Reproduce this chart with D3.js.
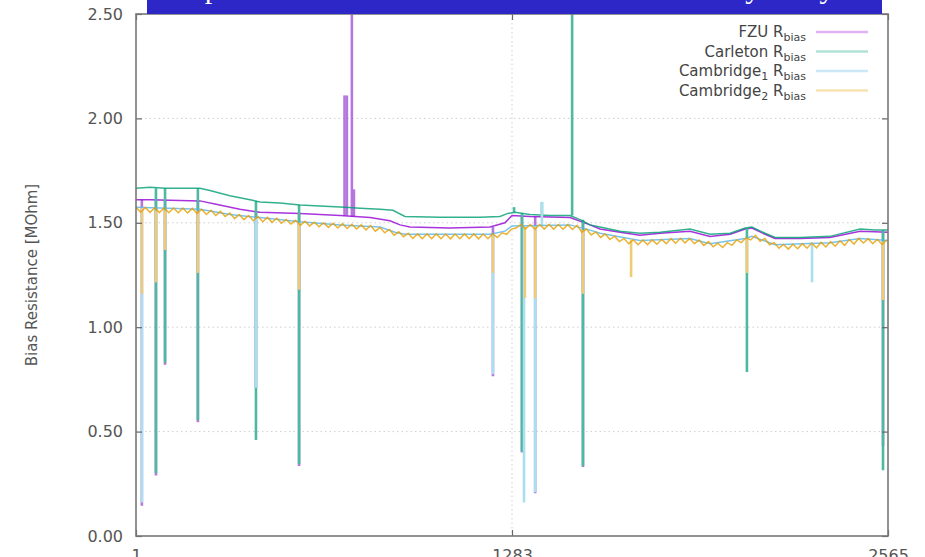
<!DOCTYPE html>
<html>
<head>
<meta charset="utf-8">
<script src="https://cdn.jsdelivr.net/npm/d3@7"></script>
<style>
body { margin: 0; background: #fff; overflow: hidden; }
svg { display: block; font-family: 'DejaVu Sans', sans-serif; }
text { white-space: pre; }
</style>
</head>
<body>
<svg></svg>
<script>
// Define variables
const width = 925
const height = 557
const plotLeft = 136, plotRight = 888, plotTop = 14, plotBottom = 536

const xTicks = [1, 1283, 2565]
const yTicks = [0, 0.5, 1.0, 1.5, 2.0, 2.5]

const colors = ['#9400d3', '#009e73', '#56b4e9', '#e69f00']
// outliers look paler in the picture
const spikeColors = ['#b577dc', '#4cb9a0', '#aadfee', '#efcb78']

// baseline readings [sensor index, MOhm]
const fzu = [[1,1.61],[49,1.61],[219,1.605],[270,1.59],[355,1.565],[424,1.55],[560,1.545],[697,1.535],
  [799,1.525],[867,1.51],[901,1.49],[935,1.48],[1071,1.475],[1208,1.48],[1259,1.50],[1283,1.535],
  [1344,1.53],[1481,1.525],[1549,1.49],[1583,1.47],[1651,1.455],[1719,1.44],[1788,1.45],[1890,1.46],
  [1958,1.435],[2027,1.445],[2078,1.47],[2101,1.475],[2146,1.445],[2180,1.425],[2265,1.425],
  [2367,1.43],[2470,1.46],[2565,1.455]]

const carleton = [[1,1.665],[49,1.67],[100,1.665],[219,1.665],[253,1.655],[321,1.63],[390,1.61],
  [424,1.60],[492,1.595],[560,1.585],[628,1.58],[714,1.575],[765,1.57],[833,1.565],[877,1.56],
  [918,1.53],[1037,1.527],[1174,1.527],[1242,1.53],[1269,1.545],[1293,1.55],[1344,1.54],[1413,1.535],
  [1481,1.535],[1515,1.515],[1549,1.49],[1583,1.48],[1651,1.46],[1719,1.45],[1788,1.455],[1890,1.47],
  [1958,1.445],[2027,1.45],[2078,1.475],[2101,1.48],[2146,1.45],[2180,1.43],[2265,1.43],[2367,1.435],
  [2470,1.47],[2521,1.465],[2565,1.465]]

const cambridge1 = [[1,1.575],[219,1.565],[321,1.54],[424,1.525],[560,1.505],[697,1.49],[833,1.48],
  [884,1.455],[918,1.445],[1208,1.445],[1259,1.46],[1283,1.485],[1481,1.49],[1549,1.465],[1583,1.45],
  [1719,1.415],[1890,1.425],[1958,1.40],[2078,1.425],[2101,1.435],[2180,1.395],[2367,1.405],
  [2470,1.425],[2565,1.415]]

// Cambridge2 read every 16 sensors (saw-tooth)
const cam2Step = 16
const cambridge2 = [
  1.574,1.551,1.573,1.550,1.572,1.549,1.572,1.548,1.571,1.548,
  1.570,1.547,1.569,1.545,1.565,1.540,1.560,1.535,1.555,1.530,
  1.547,1.520,1.540,1.515,1.535,1.510,1.530,1.505,1.526,1.502,
  1.522,1.498,1.516,1.494,1.512,1.488,1.507,1.485,1.503,1.481,
  1.500,1.478,1.498,1.475,1.496,1.473,1.493,1.470,1.490,1.466,
  1.487,1.460,1.477,1.452,1.468,1.440,1.457,1.433,1.450,1.425,
  1.447,1.424,1.447,1.424,1.447,1.424,1.446,1.423,1.446,1.424,
  1.447,1.424,1.447,1.423,1.446,1.424,1.447,1.430,1.452,1.445,
  1.470,1.475,1.492,1.470,1.492,1.469,1.492,1.470,1.493,1.470,
  1.492,1.469,1.491,1.468,1.488,1.455,1.470,1.442,1.456,1.430,
  1.446,1.420,1.436,1.410,1.425,1.400,1.418,1.395,1.417,1.395,
  1.418,1.397,1.420,1.400,1.424,1.402,1.426,1.404,1.425,1.400,
  1.418,1.392,1.410,1.385,1.402,1.382,1.405,1.392,1.418,1.405,
  1.428,1.418,1.440,1.412,1.425,1.395,1.405,1.378,1.396,1.374,
  1.397,1.376,1.400,1.378,1.403,1.380,1.406,1.384,1.410,1.388,
  1.414,1.392,1.420,1.398,1.425,1.403,1.424,1.400,1.420,1.396,
  1.418]

// single-sensor outliers [index, baseline, outlier]
const fzuSpikes = [[21,1.61,0.145],[69,1.61,0.29],[100,1.61,0.82],[212,1.605,0.545],[410,1.555,0.71],
  [557,1.545,0.335],[712,1.535,2.11],[720,1.535,2.11],[737,1.53,2.70],[744,1.53,1.66],[1218,1.48,0.765],
  [1317,1.535,0.40],[1362,1.53,0.205],[1525,1.51,0.33],[2548,1.455,0.43]]
const carletonSpikes = [[69,1.665,0.30],[100,1.665,0.83],[212,1.665,0.555],[410,1.605,0.46],
  [557,1.585,0.345],[1290,1.55,1.575],[1317,1.545,0.405],[1385,1.54,1.60],[1488,1.535,2.80],
  [1525,1.515,0.335],[2084,1.475,0.785],[2548,1.465,0.315]]
const cambridge1Spikes = [[21,1.575,0.16],[410,1.525,0.71],[1218,1.445,0.775],
  [1324,1.485,0.16],[1362,1.485,0.21],[1385,1.485,1.60],[2306,1.40,1.215]]
const cambridge2Spikes = [[21,1.57,1.16],[69,1.56,1.215],[100,1.56,1.37],[212,1.555,1.26],
  [557,1.50,1.18],[1218,1.435,1.26],[1327,1.48,1.14],[1362,1.48,1.14],[1525,1.465,1.16],
  [1689,1.42,1.24],[2084,1.425,1.26],[2548,1.41,1.13]]

const legendLabels = [
  [['FZU R', 0], ['bias', 1]],
  [['Carleton R', 0], ['bias', 1]],
  [['Cambridge', 0], ['1', 1], [' R', 0], ['bias', 1]],
  [['Cambridge', 0], ['2', 1], [' R', 0], ['bias', 1]]
]

const svg = d3.select('svg')
                .attr('width', width)
                .attr('height', height)

let xScale, yScale

let buildScales = () => {
    xScale = d3.scaleLinear().domain([1, 2565]).range([plotLeft, plotRight])
    yScale = d3.scaleLinear().domain([0, 2.5]).range([plotBottom, plotTop])
}

let buildGrid = () => {
    let grid = svg.append('g')
                  .attr('stroke', '#cfcfcf')
                  .attr('stroke-dasharray', '1.5,3')
    grid.selectAll('.gy')
        .data(yTicks.slice(1, -1))
        .enter()
        .append('line')
        .attr('x1', plotLeft).attr('x2', plotRight)
        .attr('y1', d => yScale(d)).attr('y2', d => yScale(d))
    grid.append('line')
        .attr('x1', xScale(1283)).attr('x2', xScale(1283))
        .attr('y1', plotTop).attr('y2', plotBottom)
}

let buildAxes = () => {
    let yAxis = d3.axisLeft(yScale)
                  .tickValues(yTicks)
                  .tickFormat(d3.format('.2f'))
                  .tickSize(-6)
                  .tickPadding(13)
    let yg = svg.append('g')
        .attr('transform', 'translate(' + plotLeft + ', 0)')
        .call(yAxis)

    let yRight = d3.axisRight(yScale).tickValues(yTicks).tickSize(-6).tickFormat('')
    let yr = svg.append('g')
        .attr('transform', 'translate(' + plotRight + ', 0)')
        .call(yRight)

    let xAxis = d3.axisBottom(xScale)
                  .tickValues(xTicks)
                  .tickFormat(d3.format('d'))
                  .tickSize(-6)
                  .tickPadding(14)
    let xg = svg.append('g')
        .attr('transform', 'translate(0, ' + plotBottom + ')')
        .call(xAxis)

    let xTop = d3.axisTop(xScale).tickValues(xTicks).tickSize(-6).tickFormat('')
    let xt = svg.append('g')
        .attr('transform', 'translate(0, ' + plotTop + ')')
        .call(xTop)

    ;[yg, yr, xg, xt].forEach(g => {
        g.select('.domain').remove()
        g.selectAll('line').attr('stroke', '#666').attr('stroke-width', 1.2)
        g.selectAll('text')
            .attr('fill', '#555')
            .style('font-size', '16px')
            .style('font-family', "'DejaVu Sans', sans-serif")
    })

    // border
    svg.append('rect')
        .attr('x', plotLeft).attr('y', plotTop)
        .attr('width', plotRight - plotLeft).attr('height', plotBottom - plotTop)
        .attr('fill', 'none')
        .attr('stroke', '#777')
        .attr('stroke-width', 1.6)

    svg.append('text')
        .attr('transform', 'translate(37, ' + 275 + ') rotate(-90)')
        .attr('text-anchor', 'middle')
        .attr('fill', '#555')
        .style('font-size', '15px')
        .text('Bias Resistance [MOhm]')
}

let drawSeries = () => {
    svg.append('clipPath').attr('id', 'plot-clip')
        .append('rect')
        .attr('x', plotLeft).attr('y', plotTop)
        .attr('width', plotRight - plotLeft).attr('height', plotBottom - plotTop)

    let g = svg.append('g').attr('clip-path', 'url(#plot-clip)')
    let line = d3.line().x(d => xScale(d[0])).y(d => yScale(d[1]))

    let cam2Points = cambridge2.map((v, k) => [1 + k * cam2Step, v])
    let allSeries = [fzu, carleton, cambridge1, cam2Points]
    let allSpikes = [fzuSpikes, carletonSpikes, cambridge1Spikes, cambridge2Spikes]

    allSeries.forEach((data, k) => {
        g.selectAll('.spike' + k)
            .data(allSpikes[k])
            .enter()
            .append('line')
            .attr('x1', d => xScale(d[0])).attr('x2', d => xScale(d[0]))
            .attr('y1', d => yScale(d[1])).attr('y2', d => yScale(d[2]))
            .attr('stroke', spikeColors[k])
            .attr('stroke-width', 2.6)

        g.append('path')
            .datum(data)
            .attr('d', line)
            .attr('fill', 'none')
            .attr('stroke', colors[k])
            .attr('stroke-width', 1.5)
            .attr('stroke-opacity', 0.8)
    })
}

let drawLegend = () => {
    legendLabels.forEach((parts, k) => {
        let ly = 32 + k * 19.5
        let t = svg.append('text')
            .attr('x', 806).attr('y', ly + 5)
            .attr('text-anchor', 'end')
            .attr('fill', '#444')
        let shifted = false
        parts.forEach(([s, sub]) => {
            let dy = 0
            if (sub && !shifted) { dy = 4; shifted = true }
            else if (!sub && shifted) { dy = -4; shifted = false }
            t.append('tspan').attr('dy', dy)
                .style('font-size', sub ? '11px' : '15px')
                .text(s)
        })
        svg.append('line')
            .attr('x1', 816).attr('x2', 868)
            .attr('y1', ly).attr('y2', ly)
            .attr('stroke', colors[k])
            .attr('stroke-width', 2.5)
            .attr('stroke-opacity', 0.3)
    })
}

// slide title banner, cut by the page top
let drawBanner = () => {
    svg.append('rect')
        .attr('x', 147).attr('y', 0)
        .attr('width', 735).attr('height', 14)
        .attr('fill', '#2e27c7')
    svg.append('text')
        .attr('x', 515).attr('y', -2)
        .attr('text-anchor', 'middle')
        .attr('fill', '#fff')
        .style('font-family', "'Liberation Serif', serif")
        .style('font-size', '30px')
        .text('Comparison of bias resistance for sensors tested by every site')
}

buildScales()
buildGrid()
drawSeries()
buildAxes()
drawLegend()
drawBanner()
</script>
</body>
</html>
